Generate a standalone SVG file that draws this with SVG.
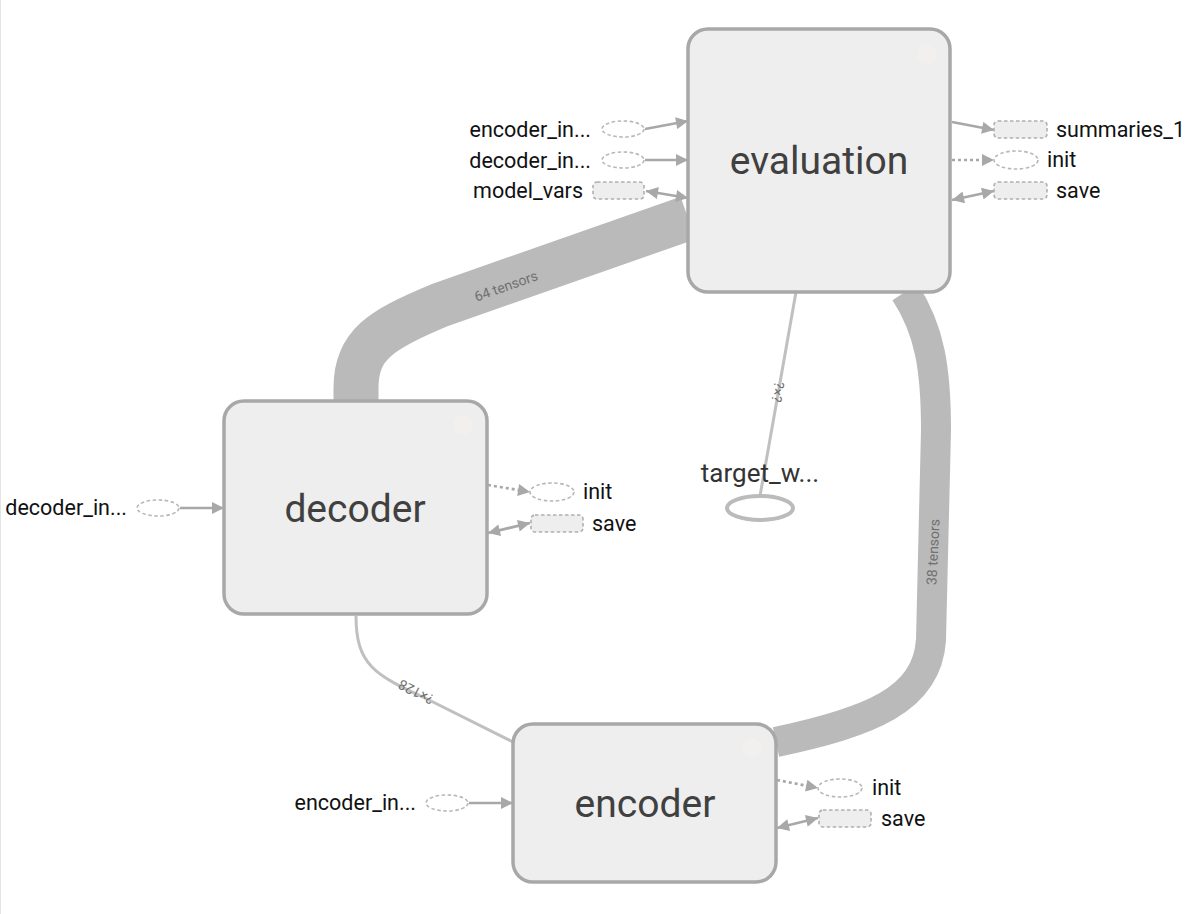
<svg xmlns="http://www.w3.org/2000/svg" width="1193" height="914" viewBox="0 0 1193 914">
<style>
.node rect.main{fill:#eeeeee;stroke:#a8a8a8;stroke-width:3.5}
.ntitle{font-family:Roboto,"Liberation Sans",sans-serif;font-size:39px;fill:#404040;text-anchor:middle}
.lbl{font-family:Roboto,"Liberation Sans",sans-serif;font-size:21.5px;fill:#111}
.lbl.end{text-anchor:end}
.aux{fill:#ffffff;stroke:#b8b8b8;stroke-width:1.6;stroke-dasharray:3.5 2.5}
.auxr{fill:#eeeeee;stroke:#b0b0b0;stroke-width:1.6;stroke-dasharray:3.5 2.5}
.ed{fill:none;stroke:#a8a8a8;stroke-width:2.7}
.dot{stroke-dasharray:3 3}
.band{fill:none;stroke:#bababa;stroke-linecap:butt}
.thin{fill:none;stroke:#c0c0c0;stroke-width:3}
.elbl{font-family:Roboto,"Liberation Sans",sans-serif;font-size:14px;fill:#707070;text-anchor:middle}
.btn{fill:#f1f0ee}
</style>
<defs>
<marker id="ah" viewBox="0 0 10 10" refX="10" refY="5" markerWidth="16" markerHeight="12" markerUnits="userSpaceOnUse" orient="auto-start-reverse">
<path d="M0,0 L10,5 L0,10 z" fill="#a8a8a8"/>
</marker>
</defs>
<rect x="0" y="0" width="1193" height="914" fill="#ffffff"/>
<line x1="0.5" y1="0" x2="0.5" y2="914" stroke="#e4e4e4"/>
<g id="connectors">
<path class="band" stroke-width="45" d="M356,401 L356,388 C356,345 380,330 440,305 L688,218"/>
<path class="band" stroke-width="30" d="M905,292 C930,330 936,370 936,430 L931,640 C927,700 870,722 776,742"/>
<path class="thin" d="M356,616 C356,665 375,675 425,698 L513,742"/>
<path class="thin" stroke-width="2.5" d="M796,292 L760,496"/>
<text class="elbl" transform="translate(506,286) rotate(-19.5)" dy="5">64 tensors</text>
<text class="elbl" transform="translate(933,552) rotate(-87)" dy="5">38 tensors</text>
<text class="elbl" transform="translate(416,692) rotate(207)" dy="5">?×128</text>
<text class="elbl" transform="translate(778,392) rotate(100)" dy="5">?×?</text>
<!-- evaluation left -->
<line class="ed" x1="645" y1="129" x2="688" y2="121" marker-end="url(#ah)"/>
<line class="ed" x1="645" y1="160" x2="688" y2="160" marker-end="url(#ah)"/>
<line class="ed" x1="646" y1="191" x2="688" y2="198" marker-start="url(#ah)" marker-end="url(#ah)"/>
<!-- evaluation right -->
<line class="ed" x1="952" y1="122" x2="994" y2="130" marker-end="url(#ah)"/>
<line class="ed dot" x1="952" y1="160" x2="994" y2="160" marker-end="url(#ah)"/>
<line class="ed" x1="952" y1="200" x2="994" y2="191" marker-start="url(#ah)" marker-end="url(#ah)"/>
<!-- decoder -->
<line class="ed" x1="180" y1="508" x2="224" y2="508" marker-end="url(#ah)"/>
<line class="ed dot" x1="488" y1="485" x2="530" y2="492" marker-end="url(#ah)"/>
<line class="ed" x1="488" y1="533" x2="530" y2="523" marker-start="url(#ah)" marker-end="url(#ah)"/>
<!-- encoder -->
<line class="ed" x1="469" y1="803" x2="513" y2="803" marker-end="url(#ah)"/>
<line class="ed dot" x1="777" y1="780" x2="818" y2="788" marker-end="url(#ah)"/>
<line class="ed" x1="777" y1="828" x2="818" y2="818" marker-start="url(#ah)" marker-end="url(#ah)"/>
</g>
<g id="evaluation" class="node">
<rect class="main" x="688" y="29" width="262" height="263" rx="20"/>
<circle class="btn" cx="927" cy="54" r="10"/>
<text class="ntitle" x="819" y="174">evaluation</text>
</g>
<g id="decoder" class="node">
<rect class="main" x="224" y="401" width="263" height="213" rx="20"/>
<circle class="btn" cx="463" cy="425" r="10"/>
<text class="ntitle" x="355" y="522">decoder</text>
</g>
<g id="encoder" class="node">
<rect class="main" x="513" y="724" width="263" height="158" rx="20"/>
<circle class="btn" cx="752" cy="748" r="10"/>
<text class="ntitle" x="645" y="817">encoder</text>
</g>
<g id="target_w">
<ellipse cx="760" cy="508" rx="33" ry="12" fill="#ffffff" stroke="#bbbbbb" stroke-width="4"/>
<text x="760" y="482" font-family="Roboto,'Liberation Sans',sans-serif" font-size="26" fill="#333" text-anchor="middle">target_w...</text>
</g>
<g id="eval_encoder_in">
<ellipse class="aux" cx="623" cy="129" rx="21" ry="8"/>
<text class="lbl end" x="591" y="137">encoder_in...</text>
</g>
<g id="eval_decoder_in">
<ellipse class="aux" cx="623" cy="160" rx="21" ry="8"/>
<text class="lbl end" x="591" y="168">decoder_in...</text>
</g>
<g id="model_vars">
<rect class="auxr" x="593" y="182" width="51" height="17" rx="4"/>
<text class="lbl end" x="583" y="198">model_vars</text>
</g>
<g id="summaries_1">
<rect class="auxr" x="994" y="121" width="53" height="17" rx="4"/>
<text class="lbl" x="1056" y="137">summaries_1</text>
</g>
<g id="eval_init">
<ellipse class="aux" cx="1016" cy="160" rx="22" ry="9"/>
<text class="lbl" x="1047" y="167">init</text>
</g>
<g id="eval_save">
<rect class="auxr" x="994" y="182" width="53" height="17" rx="4"/>
<text class="lbl" x="1056" y="198">save</text>
</g>
<g id="dec_decoder_in">
<ellipse class="aux" cx="158" cy="508" rx="21" ry="8"/>
<text class="lbl end" x="127" y="515">decoder_in...</text>
</g>
<g id="dec_init">
<ellipse class="aux" cx="552" cy="492" rx="22" ry="9"/>
<text class="lbl" x="583" y="499">init</text>
</g>
<g id="dec_save">
<rect class="auxr" x="531" y="515" width="52" height="17" rx="4"/>
<text class="lbl" x="592" y="531">save</text>
</g>
<g id="enc_encoder_in">
<ellipse class="aux" cx="447" cy="803" rx="21" ry="8"/>
<text class="lbl end" x="416" y="810">encoder_in...</text>
</g>
<g id="enc_init">
<ellipse class="aux" cx="840" cy="788" rx="22" ry="9"/>
<text class="lbl" x="872" y="795">init</text>
</g>
<g id="enc_save">
<rect class="auxr" x="819" y="810" width="52" height="17" rx="4"/>
<text class="lbl" x="881" y="826">save</text>
</g>
</svg>
